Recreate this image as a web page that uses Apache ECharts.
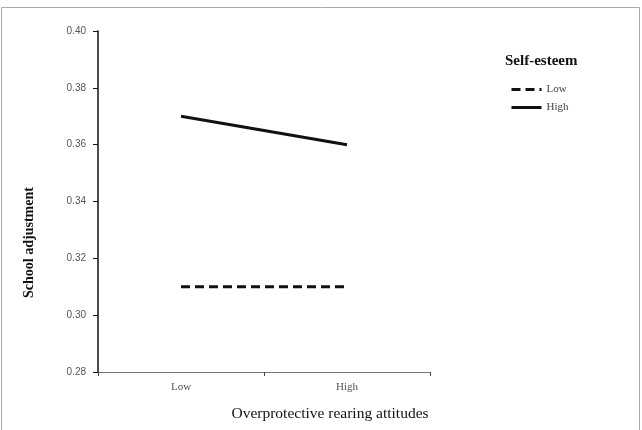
<!DOCTYPE html>
<html>
<head>
<meta charset="utf-8">
<script src="https://cdn.jsdelivr.net/npm/echarts@6/dist/echarts.min.js"></script>
<style>
  html, body { margin: 0; padding: 0; background: #fff; }
  #chart { width: 642px; height: 430px; }
</style>
</head>
<body>
<div id="chart"></div>
<script>
// 数据
const categories = ['Low', 'High'];
const lowSelfEsteem = [0.31, 0.31];
const highSelfEsteem = [0.37, 0.36];
const yTicks = { min: 0.28, max: 0.40, interval: 0.02 };

const serif = '"Liberation Serif", "DejaVu Serif", serif';
const sans = '"Liberation Sans", "DejaVu Sans", sans-serif';

const chart = echarts.init(document.getElementById('chart'));
const option = {
  animation: false,
  backgroundColor: '#fff',
  graphic: [{
    type: 'rect',
    shape: { x: 1.5, y: 7.5, width: 638, height: 430 },
    style: { fill: 'none', stroke: '#aaa', lineWidth: 1 },
    silent: true
  }],
  title: {
    text: 'Self-esteem',
    left: 500,
    top: 49,
    textStyle: { fontFamily: serif, fontSize: 15, fontWeight: 'bold', color: '#111' }
  },
  legend: {
    orient: 'vertical',
    left: 505,
    top: 79,
    itemWidth: 30,
    itemHeight: 12,
    itemGap: 7,
    itemStyle: { opacity: 0 },
    lineStyle: { width: 3 },
    data: ['Low', 'High'],
    textStyle: { fontFamily: serif, fontSize: 11, color: '#444' }
  },
  grid: { left: 98, right: 212, top: 31, bottom: 58, containLabel: false },
  xAxis: {
    type: 'category',
    data: categories,
    boundaryGap: true,
    axisLine: { lineStyle: { color: '#777', width: 1 } },
    axisTick: { show: true, length: 4, lineStyle: { color: '#444' } },
    axisLabel: { fontFamily: serif, fontSize: 11, color: '#555', margin: 10 },
    name: 'Overprotective rearing attitudes',
    nameLocation: 'middle',
    nameGap: 34,
    nameTextStyle: { fontFamily: serif, fontSize: 15.5, color: '#111', padding: [0, 0, 0, 132] }
  },
  yAxis: {
    type: 'value',
    min: yTicks.min,
    max: yTicks.max,
    interval: yTicks.interval,
    splitLine: { show: false },
    axisLine: { show: true, lineStyle: { color: '#111', width: 1.5 } },
    axisTick: { show: true, length: 5, lineStyle: { color: '#111' } },
    axisLabel: {
      fontFamily: sans, fontSize: 10, color: '#555', margin: 12,
      formatter: v => v.toFixed(2)
    },
    name: 'School adjustment',
    nameLocation: 'middle',
    nameGap: 62,
    nameTextStyle: { fontFamily: serif, fontSize: 14, fontWeight: 'bold', color: '#111', padding: [0, 82, 0, 0] }
  },
  series: [
    {
      name: 'Low',
      type: 'line',
      data: lowSelfEsteem,
      symbol: 'none',
      lineStyle: { color: '#111', width: 3, type: [9, 5] },
      itemStyle: { color: '#111' }
    },
    {
      name: 'High',
      type: 'line',
      data: highSelfEsteem,
      symbol: 'none',
      lineStyle: { color: '#111', width: 3 },
      itemStyle: { color: '#111' }
    }
  ]
};
chart.setOption(option);
window.addEventListener('resize', function () {
  chart.resize();
});
</script>
</body>
</html>
